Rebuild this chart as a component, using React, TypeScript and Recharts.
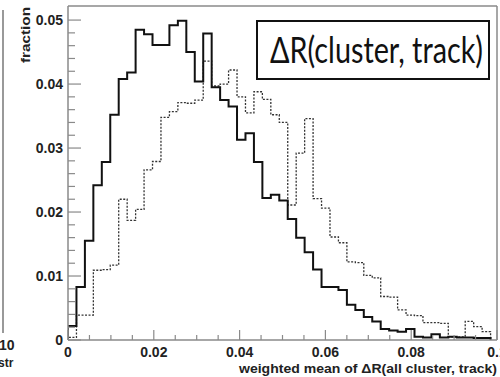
import { LineChart, Line, XAxis, YAxis } from "recharts";

// fraction per bin, 50 bins starting at 0
const solidFraction = [
  0.0022, 0.0083, 0.0155, 0.0242, 0.0278, 0.0352, 0.0408, 0.0418, 0.0485, 0.0478,
  0.0461, 0.0461, 0.0492, 0.0499, 0.045, 0.0404, 0.0479, 0.0395, 0.0375, 0.0365,
  0.0313, 0.0323, 0.0278, 0.0222, 0.0227, 0.0218, 0.0189, 0.016, 0.0137, 0.011,
  0.0083, 0.0083, 0.0078, 0.0055, 0.0047, 0.0036, 0.0029, 0.0017, 0.0015, 0.0013,
  0.0017, 0.0005, 0.0004, 0.0009, 0.0004, 0.0005, 0.0004, 0.0004, 0.0003, 0.0003,
];

const dottedFraction = [
  0.0004, 0.0039, 0.0039, 0.0109, 0.011, 0.0117, 0.022, 0.0187, 0.0204, 0.0266,
  0.0279, 0.0348, 0.0357, 0.0371, 0.037, 0.0375, 0.0436, 0.0397, 0.04, 0.0422,
  0.038, 0.0355, 0.0388, 0.0376, 0.0352, 0.034, 0.0211, 0.0292, 0.0346, 0.0221,
  0.0206, 0.0161, 0.0152, 0.0122, 0.0121, 0.0101, 0.0097, 0.0068, 0.0067, 0.0047,
  0.0039, 0.0038, 0.0027, 0.0027, 0.0026, 0.0005, 0.0005, 0.0029, 0.0021, 0.0013,
];

const BIN_WIDTH = 0.00197;

const xTicks = [
  0, 0.005, 0.01, 0.015, 0.02, 0.025, 0.03, 0.035, 0.04, 0.045, 0.05,
  0.055, 0.06, 0.065, 0.07, 0.075, 0.08, 0.085, 0.09, 0.095, 0.1,
];
const yTicks = [
  0, 0.002, 0.004, 0.006, 0.008, 0.01, 0.012, 0.014, 0.016, 0.018, 0.02,
  0.022, 0.024, 0.026, 0.028, 0.03, 0.032, 0.034, 0.036, 0.038, 0.04,
  0.042, 0.044, 0.046, 0.048, 0.05,
];
const xLabels = ["0", "0.02", "0.04", "0.06", "0.08", "0.1"];
const yLabels = ["0", "0.01", "0.02", "0.03", "0.04", "0.05"];

// histogram outline: rise from 0, one point per bin edge, drop back to 0
const toSteps = (vals: number[]) => {
  const pts = [{ x: 0, y: 0 }];
  vals.forEach((v, i) => pts.push({ x: i * BIN_WIDTH, y: v }));
  const end = vals.length * BIN_WIDTH;
  pts.push({ x: end, y: vals[vals.length - 1] });
  pts.push({ x: end, y: 0 });
  return pts;
};

const solidPts = toSteps(solidFraction);
const dottedPts = toSteps(dottedFraction);

const AXIS = "#8a8a8a";
const labelStyle = {
  fontFamily: '"Liberation Sans", Arial, sans-serif',
  fontWeight: 700,
  fontSize: 14,
  fill: "#222",
};

const XTick = (props: any) => {
  const { x, y, payload } = props;
  const idx = Math.round(payload.value / 0.02);
  const major = Math.abs(payload.value - idx * 0.02) < 1e-6;
  return (
    <g>
      <line x1={x} y1={y} x2={x} y2={y - (major ? 10 : 5)} stroke={AXIS} strokeWidth={1.2} />
      {major && (
        <text x={x} y={y + 17} textAnchor="middle" style={labelStyle}>
          {xLabels[idx]}
        </text>
      )}
    </g>
  );
};

const YTick = (props: any) => {
  const { x, y, payload } = props;
  const idx = Math.round(payload.value / 0.01);
  const major = Math.abs(payload.value - idx * 0.01) < 1e-6;
  return (
    <g>
      <line x1={x} y1={y} x2={x + (major ? 13 : 7)} y2={y} stroke={AXIS} strokeWidth={1.2} />
      {major && (
        <text x={x - 5} y={y + 5} textAnchor="end" style={labelStyle}>
          {yLabels[idx]}
        </text>
      )}
    </g>
  );
};

export default function App() {
  return (
    <div
      style={{
        position: "absolute",
        left: 0,
        top: 0,
        width: 500,
        height: 377,
        background: "#fff",
        overflow: "hidden",
      }}
    >
      <LineChart width={500} height={377} margin={{ top: 6, right: 3, left: 8, bottom: 0 }}>
        <XAxis
          type="number"
          dataKey="x"
          domain={[0, 0.1]}
          ticks={xTicks}
          interval={0}
          tickSize={0}
          tickMargin={0}
          tickLine={false}
          axisLine={{ stroke: AXIS, strokeWidth: 1.5 }}
          tick={(p: any) => <XTick {...p} />}
          height={37}
          allowDataOverflow
        />
        <YAxis
          type="number"
          domain={[0, 0.0522]}
          ticks={yTicks}
          interval={0}
          tickSize={0}
          tickMargin={0}
          tickLine={false}
          axisLine={{ stroke: AXIS, strokeWidth: 1.5 }}
          tick={(p: any) => <YTick {...p} />}
          width={60}
          allowDataOverflow
        />
        <Line
          data={dottedPts}
          dataKey="y"
          type="stepAfter"
          stroke="#333"
          strokeWidth={1.3}
          strokeDasharray="2 1.5"
          dot={false}
          activeDot={false}
          isAnimationActive={false}
        />
        <Line
          data={solidPts}
          dataKey="y"
          type="stepAfter"
          stroke="#111"
          strokeWidth={2}
          dot={false}
          activeDot={false}
          isAnimationActive={false}
        />
      </LineChart>
      <svg
        width={500}
        height={377}
        style={{ position: "absolute", left: 0, top: 0, pointerEvents: "none" }}
      >
        {/* frame top / right */}
        <line x1={68} y1={6} x2={497} y2={6} stroke={AXIS} strokeWidth={1.5} />
        <line x1={497} y1={6} x2={497} y2={340} stroke={AXIS} strokeWidth={1.5} />
        {/* edge of the neighbouring plot */}
        <line x1={3} y1={10} x2={3} y2={333} stroke="#777" strokeWidth={1.5} />
        <text x={-1} y={350} style={labelStyle}>10</text>
        <text x={-2} y={367} style={{ ...labelStyle, fontSize: 12 }}>str</text>
        <text
          transform="translate(30,7) rotate(-90)"
          textAnchor="end"
          textLength={56}
          lengthAdjust="spacingAndGlyphs"
          style={{ ...labelStyle, fontSize: 13 }}
        >
          fraction
        </text>
        <text
          x={497}
          y={373}
          textAnchor="end"
          textLength={258}
          lengthAdjust="spacingAndGlyphs"
          style={{ ...labelStyle, fontSize: 13.5 }}
        >
          weighted mean of ΔR(all cluster, track)
        </text>
        {/* annotation box */}
        <rect x={257} y={21} width={232} height={58} fill="#fff" stroke="#111" strokeWidth={2} />
        <text
          x={270}
          y={63}
          textLength={213}
          lengthAdjust="spacingAndGlyphs"
          style={{ fontFamily: "Lato, 'Open Sans', sans-serif", fontSize: 36, fill: "#111" }}
        >
          ΔR(cluster, track)
        </text>
      </svg>
    </div>
  );
}
